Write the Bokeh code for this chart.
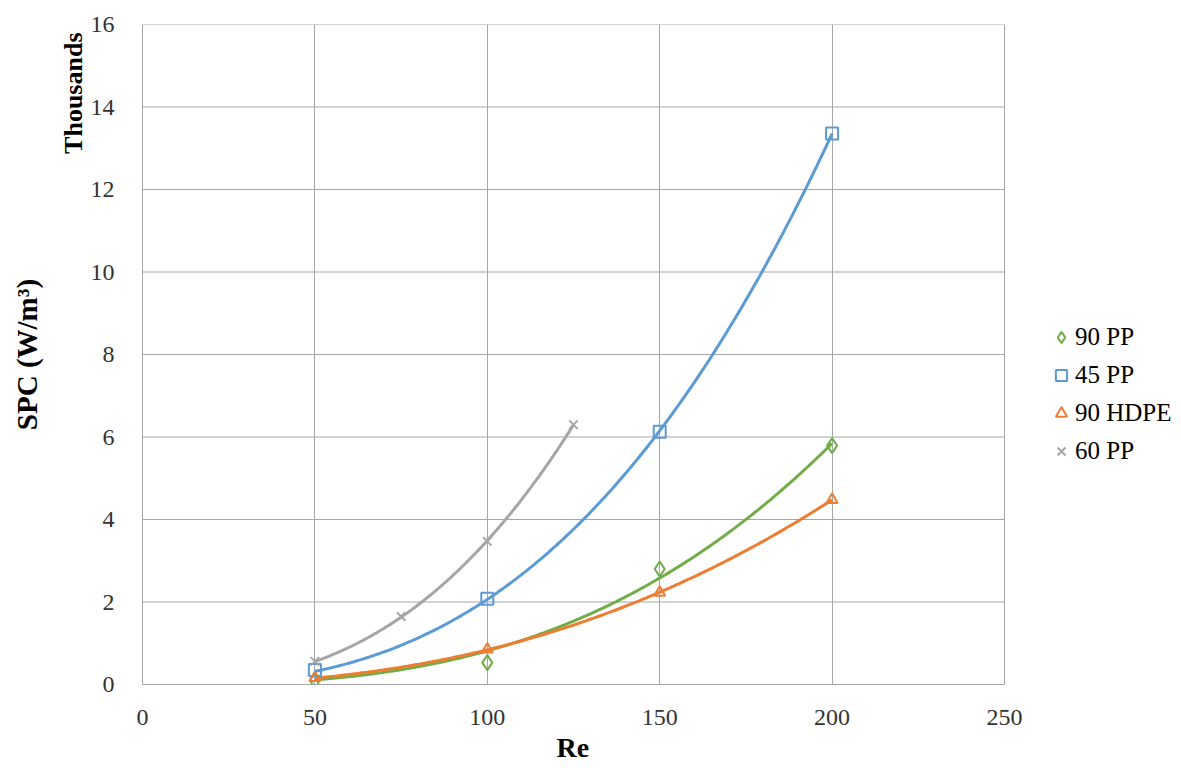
import numpy as np
from bokeh.plotting import figure
from bokeh.models import Range1d, Legend, LegendItem, FixedTicker, LinearAxis, Title
from bokeh.embed import file_html
from bokeh.resources import INLINE

# ---- data (SPC in thousands of W/m3) ----
re_90pp = [50, 100, 150, 200]
spc_90pp = [0.10, 0.53, 2.80, 5.79]

re_45pp = [50, 100, 150, 200]
spc_45pp = [0.35, 2.08, 6.13, 13.36]

re_90hdpe = [50, 100, 150, 200]
spc_90hdpe = [0.16, 0.85, 2.23, 4.48]

re_60pp = [50, 75, 100, 125]
spc_60pp = [0.56, 1.65, 3.47, 6.30]

series_names = ["90 PP", "45 PP", "90 HDPE", "60 PP"]
x_ticks = [0, 50, 100, 150, 200, 250]
y_ticks = [0, 2, 4, 6, 8, 10, 12, 14, 16]

FONT = "Liberation Serif"
GREEN, BLUE, ORANGE, GRAY = "#70AD47", "#5B9BD5", "#ED7D31", "#A5A5A5"
GRID = "#A6A6A6"
TXT = "#333333"

W, H = 1176, 767
LEFT, TOP, BOTTOM = 142, 24, 83
DATA_PX = 862                        # pixel width of the 0..250 data area
X_MAX = x_ticks[-1]
# the frame is extended to the right so the legend can sit beside the axes
p = figure(width=W, height=H, output_backend="svg", toolbar_location=None,
           x_range=Range1d(0, X_MAX * (W - LEFT) / DATA_PX),
           y_range=Range1d(y_ticks[0], y_ticks[-1]),
           min_border_left=LEFT, min_border_right=0, min_border_top=TOP,
           min_border_bottom=BOTTOM)
p.outline_line_color = None
p.background_fill_color = "white"
p.border_fill_color = "white"

p.xaxis.ticker = FixedTicker(ticks=x_ticks)
p.yaxis.ticker = FixedTicker(ticks=y_ticks)
p.xaxis.bounds = (0, X_MAX)
for ax in (p.xaxis[0], p.yaxis[0]):
    ax.axis_line_color = GRID
    ax.axis_line_width = 1
    ax.major_tick_line_color = None
    ax.minor_tick_line_color = None
    ax.major_label_text_font = FONT
    ax.major_label_text_font_size = "24px"
    ax.major_label_text_color = TXT
p.xaxis.major_label_standoff = 19
p.yaxis.major_label_standoff = 22

p.xgrid.grid_line_color = GRID
p.ygrid.grid_line_color = None
# horizontal gridlines only across the data area (0..250)
p.segment(x0=[0] * len(y_ticks), x1=[X_MAX] * len(y_ticks), y0=y_ticks, y1=y_ticks,
          line_color=GRID, line_width=1)

# x-axis title, centred under the 0..250 data area
p.add_layout(Title(text="Re", align="left", offset=DATA_PX / 2 - 17, text_font=FONT,
                   text_font_style="bold", text_font_size="28px", text_color="black",
                   standoff=4), "below")

# "Thousands" unit label next to the tick labels, at the top
p.add_layout(Title(text="Thousands", align="right", text_font=FONT, text_font_style="bold",
                   text_font_size="26px", text_color="black", standoff=0, offset=8), "left")

# outer axis carrying only the quantity label
outer = LinearAxis(axis_label="SPC (W/m\u00b3)", ticker=FixedTicker(ticks=[]),
                   axis_line_color=None, major_tick_line_color=None,
                   minor_tick_line_color=None, major_label_text_font_size="0px",
                   axis_label_text_font=FONT, axis_label_text_font_style="bold",
                   axis_label_text_font_size="29px", axis_label_text_color="black",
                   axis_label_standoff=14)
p.add_layout(outer, "left")

# power-law trendlines y = a*x^b, least squares on the values themselves
def trend(xs, ys):
    xs = np.asarray(xs, float)
    ys = np.asarray(ys, float)
    best = None
    for b in np.linspace(1.0, 5.0, 4001):
        xb = xs ** b
        a = (ys * xb).sum() / (xb * xb).sum()
        err = ((a * xb - ys) ** 2).sum()
        if best is None or err < best[0]:
            best = (err, a, b)
    _, a, b = best
    xx = np.linspace(xs.min(), xs.max(), 200)
    return xx, a * xx ** b

for xs, ys, col in [(re_90pp, spc_90pp, GREEN), (re_45pp, spc_45pp, BLUE),
                    (re_90hdpe, spc_90hdpe, ORANGE), (re_60pp, spc_60pp, GRAY)]:
    xx, yy = trend(xs, ys)
    p.line(xx, yy, line_color=col, line_width=3)

r1 = p.scatter(re_90pp, spc_90pp, marker="diamond", size=15, fill_color="white",
               fill_alpha=0, line_color=GREEN, line_width=2)
r2 = p.scatter(re_45pp, spc_45pp, marker="square", size=12, fill_color="white",
               fill_alpha=0, line_color=BLUE, line_width=2)
r3 = p.scatter(re_90hdpe, spc_90hdpe, marker="triangle", size=11, fill_color="white",
               fill_alpha=0, line_color=ORANGE, line_width=2)
r4 = p.scatter(re_60pp, spc_60pp, marker="x", size=12, line_color=GRAY, line_width=2)

legend = Legend(items=[LegendItem(label=n, renderers=[r]) for n, r in
                       zip(series_names, [r1, r2, r3, r4])],
                location=(905, 218), border_line_color=None,
                label_text_font=FONT, label_text_font_size="25px",
                label_text_color="black", glyph_width=28, glyph_height=30,
                label_standoff=0, spacing=8, padding=0, margin=0,
                background_fill_alpha=0)
p.add_layout(legend, "center")

open("out.html", "w").write(file_html(p, INLINE))
